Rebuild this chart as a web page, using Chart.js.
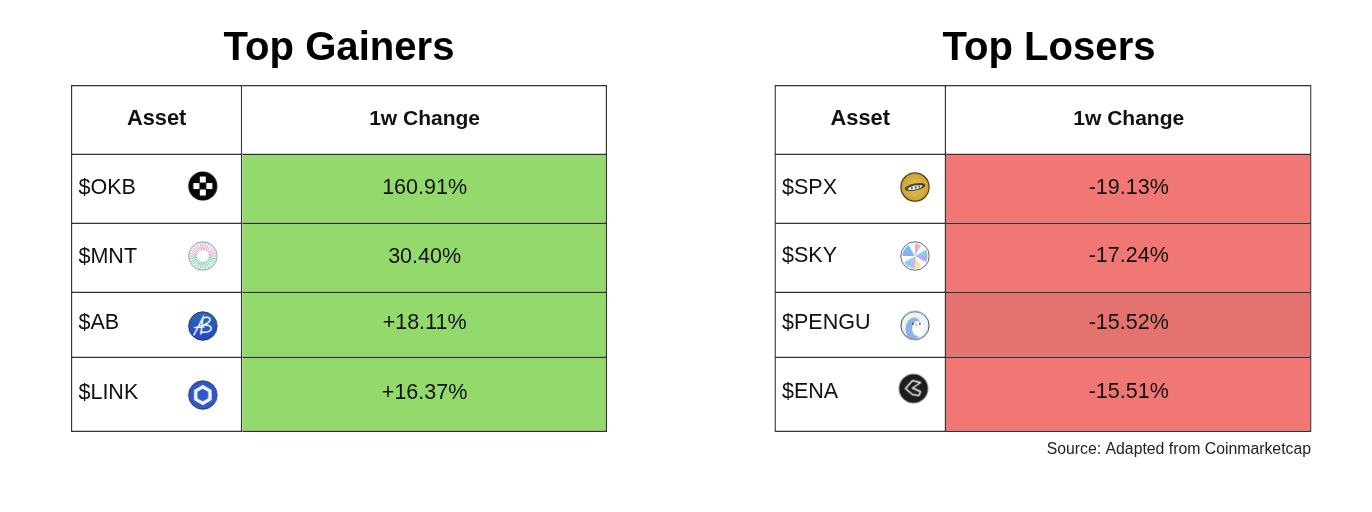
<!DOCTYPE html>
<html>
<head>
<meta charset="utf-8">
<title>Top Gainers and Top Losers</title>
<script src="https://cdn.jsdelivr.net/npm/chart.js@4"></script>
<style>
html,body{margin:0;padding:0;background:#fff;width:1372px;height:512px;overflow:hidden}
canvas{position:absolute;top:0}
</style>
</head>
<body>
<canvas id="gainers" width="678" height="512" style="left:0"></canvas>
<canvas id="losers" width="646" height="512" style="left:726px"></canvas>
<script>
// ---- values ----
const columnHeaders = ['Asset', '1w Change'];
const gainerAssets = ['$OKB', '$MNT', '$AB', '$LINK'];
const gainerChanges = ['160.91%', '30.40%', '+18.11%', '+16.37%'];
const loserAssets = ['$SPX', '$SKY', '$PENGU', '$ENA'];
const loserChanges = ['-19.13%', '-17.24%', '-15.52%', '-15.51%'];
const sourceNote = 'Source: Adapted from Coinmarketcap';

// ---- layout (in scale units: 1 unit = 1 px) ----
const rowEdges = [0, 70, 139, 208, 273, 347];
const columnEdges = [0, 171.5, 537];
const headerTextY = 34;
const gainerTextY = [103, 172, 238, 308];
const loserTextY = [103, 171.5, 238, 307];
const gainerIconX = [132, 132, 132, 132];
const gainerIconY = [101, 171, 241, 310];
const loserIconX = [140.5, 140.5, 140.5, 139];
const loserIconY = [102, 171, 240.5, 303.5];

// ---- styles ----
const FONT = '"Liberation Sans", Arial, sans-serif';
const LINE = '#333333';
const GREEN = '#93D96B';
const RED = '#F07774';
const RED_DARK = '#E4736F';

function icon(draw) {
  const c = document.createElement('canvas');
  const R = 14.5, S = 32;
  c.width = S; c.height = S;
  const g = c.getContext('2d');
  g.translate(S / 2, S / 2);
  draw(g, R);
  return c;
}
function disc(g, r, fill, stroke, lw) {
  g.beginPath(); g.arc(0, 0, r, 0, Math.PI * 2);
  if (fill) { g.fillStyle = fill; g.fill(); }
  if (stroke) { g.strokeStyle = stroke; g.lineWidth = lw || 1; g.stroke(); }
}
const iconOKB = icon((g, R) => {
  disc(g, R, '#050505');
  g.fillStyle = '#fff';
  [[0, -6.5], [-6.5, 0], [6.5, 0], [0, 6.5]].forEach(p => g.fillRect(p[0] - 3, p[1] - 3, 6, 6));
});
const iconMNT = icon((g, R) => {
  disc(g, R - .3, '#fff', '#8b9a96', 1);
  for (let i = 0; i < 28; i++) {
    const a = i / 28 * Math.PI * 2;
    g.strokeStyle = Math.sin(a) < -0.1 ? '#e39ac9' : (Math.sin(a) > 0.1 ? '#64c7ae' : '#9bb8b0');
    g.lineWidth = 1;
    g.beginPath();
    g.moveTo(Math.cos(a) * 6, Math.sin(a) * 6);
    g.lineTo(Math.cos(a) * (R - 1), Math.sin(a) * (R - 1));
    g.stroke();
  }
});
const iconAB = icon((g, R) => {
  const gr = g.createLinearGradient(0, -R, 0, R);
  gr.addColorStop(0, '#2b6cb0'); gr.addColorStop(1, '#2347c8');
  disc(g, R - .3, gr, '#1d2f66', 1);
  g.strokeStyle = '#fff'; g.lineWidth = 1.5; g.lineCap = 'round';
  g.beginPath();
  g.moveTo(-9, 9); g.lineTo(0, -8); g.lineTo(-2, 8);
  g.moveTo(-8, 1.5); g.lineTo(1, 1);
  g.moveTo(0, -8); g.bezierCurveTo(8, -11, 11, -5, 0.5, -1);
  g.bezierCurveTo(12, -2, 11, 8, -2, 6);
  g.stroke();
});
const iconLINK = icon((g, R) => {
  disc(g, R - .3, '#2f57c6', '#23345f', 1);
  g.beginPath();
  for (let i = 0; i < 6; i++) {
    const a = Math.PI / 6 + i * Math.PI / 3;
    g[i ? 'lineTo' : 'moveTo'](Math.cos(a) * 8.2, Math.sin(a) * 8.2);
  }
  g.closePath();
  g.strokeStyle = '#f2f5ff'; g.lineWidth = 3.4; g.stroke();
});
const iconSPX = icon((g, R) => {
  const gr = g.createRadialGradient(0, 0, 3, 0, 0, R);
  gr.addColorStop(0, '#e2bc4c'); gr.addColorStop(1, '#cda03a');
  disc(g, R - .4, gr, '#4a3a18', 1.2);
  g.save(); g.rotate(-0.2);
  g.fillStyle = '#4a4336'; g.beginPath(); g.ellipse(0, 0, 10.5, 3.6, 0, 0, Math.PI * 2); g.fill();
  g.fillStyle = '#e4e2da'; g.beginPath(); g.ellipse(0, 0.5, 7.5, 2, 0, 0, Math.PI * 2); g.fill();
  g.fillStyle = '#5a5346'; g.fillRect(-4, -0.5, 1.5, 2); g.fillRect(0, -0.5, 1.5, 2); g.fillRect(3.5, -0.5, 1.5, 2);
  g.restore();
});
const iconSKY = icon((g, R) => {
  disc(g, R - .3, '#fff', '#5f6670', 1);
  const cols = ['#f3a9d8', '#ffffff', '#8ec9f5', '#b9a7f3', '#fff', '#f9e29c', '#c9b6f5', '#7ed0f5', '#ffffff', '#8fa8f5', '#5fc2f0', '#fff'];
  cols.forEach((col, i) => {
    const a = -Math.PI / 2 + i * Math.PI * 2 / cols.length;
    g.beginPath(); g.moveTo(0, 0);
    g.arc(0, 0, R - 2, a, a + Math.PI * 2 / cols.length);
    g.closePath(); g.fillStyle = col; g.fill();
  });
});
const iconPENGU = icon((g, R) => {
  disc(g, R - .4, '#e9f5f9', '#3c4a52', 1);
  g.save();
  g.beginPath(); g.arc(0, 0, R - 1, 0, Math.PI * 2); g.clip();
  g.fillStyle = '#8fb0e8';
  g.beginPath(); g.ellipse(-1.5, 3, 8, 11, 0.1, 0, Math.PI * 2); g.fill();
  g.fillStyle = '#fff';
  g.beginPath(); g.ellipse(3, 3, 6, 7.5, 0, 0, Math.PI * 2); g.fill();
  g.restore();
  g.fillStyle = '#f0a040'; g.fillRect(0, -1.5, 2.5, 1.6);
  g.fillStyle = '#223'; g.fillRect(-3, -2.5, 1.6, 1.6); g.fillRect(4, -2.5, 1.6, 1.6);
});
const iconENA = icon((g, R) => {
  disc(g, R, '#1d1d1d');
  g.strokeStyle = '#f4f4f4'; g.lineWidth = 1.5; g.lineJoin = 'round';
  g.beginPath();
  g.moveTo(-1, -8); g.lineTo(7, -6); g.lineTo(-1, -0.5); g.lineTo(7, 3); g.lineTo(5.5, 7);
  g.moveTo(-1, -8); g.lineTo(-8, 0); g.lineTo(-1, 6); g.lineTo(5.5, 7);
  g.stroke();
});

function cellTextPlugin(assets, changes, textY, withNote) {
  return {
    id: 'cellText',
    afterDatasetsDraw(chart) {
      const g = chart.ctx, x = chart.scales.x, y = chart.scales.y;
      g.save();
      g.fillStyle = '#111';
      g.textBaseline = 'middle';
      g.textAlign = 'center';
      columnHeaders.forEach((h, i) => {
        g.font = 'bold ' + (i === 0 ? 21.8 : 21) + 'px ' + FONT;
        g.fillText(h, x.getPixelForValue((columnEdges[i] + columnEdges[i + 1]) / 2), y.getPixelForValue(headerTextY));
      });
      g.font = '21.5px ' + FONT;
      g.textAlign = 'left';
      assets.forEach((a, i) => g.fillText(a, x.getPixelForValue(7.5), y.getPixelForValue(textY[i])));
      g.textAlign = 'center';
      changes.forEach((c, i) => g.fillText(c, x.getPixelForValue((columnEdges[1] + columnEdges[2]) / 2), y.getPixelForValue(textY[i])));
      if (withNote) {
        g.textAlign = 'right';
        g.font = '15.8px ' + FONT;
        g.fillStyle = '#222';
        g.fillText(sourceNote, x.getPixelForValue(columnEdges[2] - 0.5), y.getPixelForValue(rowEdges[5] + 18));
      }
      g.restore();
    }
  };
}

function buildTable(id, cfg) {
  const datasets = [];
  for (let r = 0; r < rowEdges.length - 1; r++) {
    for (let c = 0; c < 2; c++) {
      const fill = (r > 0 && c === 1) ? cfg.fill(r - 1) : '#ffffff';
      datasets.push({
        type: 'bar',
        grouped: false,
        data: [{ x: [columnEdges[c], columnEdges[c + 1]], y: (rowEdges[r] + rowEdges[r + 1]) / 2 }],
        barThickness: rowEdges[r + 1] - rowEdges[r],
        backgroundColor: fill,
        borderColor: LINE,
        borderWidth: { top: r === 0 ? 1.4 : 0, left: c === 0 ? 1.4 : 0, right: 1.4, bottom: 1.4 },
        borderSkipped: false,
        inflateAmount: 0,
        clip: false
      });
    }
  }
  datasets.unshift({
    type: 'scatter',
    order: -1,
    data: cfg.iconX.map((x, i) => ({ x, y: cfg.iconY[i] })),
    pointStyle: cfg.icons,
    pointRadius: 14,
    clip: false
  });
  return new Chart(document.getElementById(id), {
    type: 'bar',
    data: { datasets },
    plugins: [cellTextPlugin(cfg.assets, cfg.changes, cfg.textY, cfg.note)],
    options: {
      indexAxis: 'y',
      responsive: false,
      devicePixelRatio: 1,
      animation: false,
      layout: { autoPadding: false, padding: { left: cfg.pad, right: cfg.pad, top: 0, bottom: 80 } },
      scales: {
        x: { type: 'linear', display: false, min: 0, max: cfg.xMax, offset: false },
        y: { type: 'linear', display: false, min: 0, max: rowEdges[rowEdges.length - 1], reverse: true, offset: false }
      },
      plugins: {
        legend: { display: false },
        tooltip: { enabled: false },
        title: {
          display: true,
          text: cfg.title,
          color: '#000',
          font: { family: FONT, size: 40.1, weight: 'bold', lineHeight: 1.2 },
          padding: { top: 24.5, bottom: 12.4 }
        }
      }
    }
  });
}

buildTable('gainers', {
  title: 'Top Gainers', assets: gainerAssets, changes: gainerChanges, textY: gainerTextY,
  fill: () => GREEN, iconX: gainerIconX, iconY: gainerIconY,
  icons: [iconOKB, iconMNT, iconAB, iconLINK], pad: 71, xMax: 537, note: false
});
buildTable('losers', {
  title: 'Top Losers', assets: loserAssets, changes: loserChanges, textY: loserTextY,
  fill: i => (i === 2 ? RED_DARK : RED), iconX: loserIconX, iconY: loserIconY,
  icons: [iconSPX, iconSKY, iconPENGU, iconENA], pad: 48.5, xMax: 549, note: true
});
</script>
</body>
</html>
